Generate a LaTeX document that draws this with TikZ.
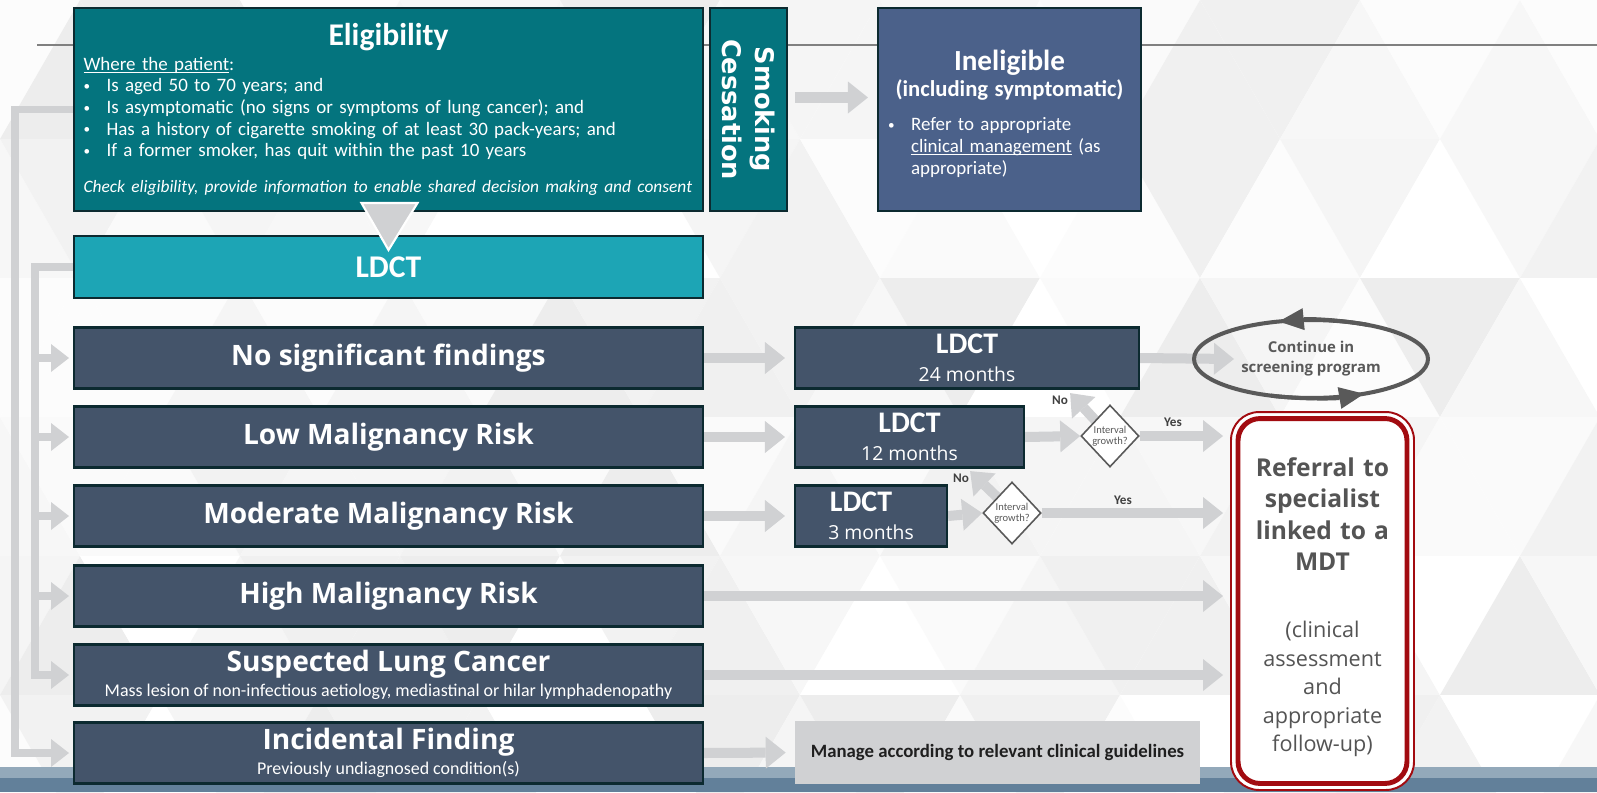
\documentclass[tikz,border=0pt]{standalone}
\usepackage{fontspec}
\setmainfont{Carlito}
\newfontfamily\segoe{Open Sans}
\newfontfamily\wide{DejaVu Sans}
\usetikzlibrary{arrows.meta}
\usetikzlibrary{shapes.geometric}
\usetikzlibrary{backgrounds}

\definecolor{tealdark}{HTML}{04747E}
\definecolor{teallight}{HTML}{1DA5B5}
\definecolor{ineligblue}{HTML}{4B618A}
\definecolor{slate}{HTML}{44546A}
\definecolor{boxedge}{HTML}{0C2A30}
\definecolor{arrowgray}{HTML}{D0D1D3}
\definecolor{loopgray}{HTML}{595959}
\definecolor{refred}{HTML}{A20B10}
\definecolor{bandtop}{HTML}{93A9BA}
\definecolor{banddark}{HTML}{62809A}

\newcommand{\bul}{\makebox[0.46cm][l]{\raisebox{0.6pt}{\fontsize{7.5}{7.5}\selectfont\textbullet}}}
\newcommand{\undl}[1]{\leavevmode\setbox0\hbox{#1}\rlap{\rule[-1.4pt]{\wd0}{0.45pt}}\box0\relax}

\tikzset{
  box/.style= {draw=boxedge, line width=1.2pt, fill=slate, text=white, align=center, inner sep=2pt},
  tbox/.style= {box, fill=tealdark},
  finding/.style= {box, minimum width=12.58cm, minimum height=1.22cm, font=\segoe\bfseries\fontsize{16}{18}\selectfont},
  scan/.style= {box, minimum height=1.22cm, font=\bfseries\fontsize{17}{17}\selectfont},
  dec/.style= {diamond, draw=loopgray, fill=white, line width=0.9pt, minimum width=1.16cm, minimum height=1.24cm, inner sep=0pt, align=center, text=loopgray, font=\fontsize{6}{6.5}\selectfont},
  yn/.style= {text=black!75, font=\bfseries\fontsize{7.5}{8}\selectfont},
  flow/.style= {draw=arrowgray, line width=5.7pt, shorten >=0.18cm, -{Triangle[length=0.4cm, width=0.64cm, line width=0pt]}},
  bar/.style= {draw=arrowgray, line width=4pt, shorten >=0.08cm, -{Triangle[length=0.36cm, width=0.56cm, line width=0pt]}},
  cyc/.style= {draw=loopgray, line width=2.3pt, -{Triangle[length=0.5cm, width=0.44cm, line width=0pt]}},
}

\begin{document}
\begin{tikzpicture}[x=0.02cm, y=-0.02cm]
  \useasboundingbox (0,0) rectangle (1597,792);

  \node [tbox, minimum width=12.58cm, minimum height=4.06cm, text width=12.2cm, align=left, font=\fontsize{10.8}{12.3}\selectfont] (elig) at (388.5,109.5) {%
    \makebox[\linewidth]{\bfseries\fontsize{18}{20}\selectfont Eligibility}\\[1.5pt]
    \undl{Where the patient}:\\
    \bul Is aged 50 to 70 years; and\\
    \bul Is asymptomatic (no signs or symptoms of lung cancer); and\\
    \bul Has a history of cigarette smoking of at least 30 pack-years; and\\
    \bul If a former smoker, has quit within the past 10 years\\[8pt]
    {\itshape\fontsize{9.9}{12}\selectfont Check eligibility, provide information to enable shared decision making and consent}};
  \node [tbox, rotate=-90, minimum width=4.06cm, minimum height=1.54cm, font=\wide\bfseries\fontsize{14.6}{18.5}\selectfont] (smoke) at (748.5,109.5) {Smoking\\Cessation};
  \node [box, fill=ineligblue, minimum width=5.26cm, minimum height=4.06cm, text width=4.86cm, align=left, font=\fontsize{10.8}{12.6}\selectfont] (inelig) at (1009.5,109.5) {%
    \vspace*{4pt}
    \makebox[\linewidth]{\bfseries\fontsize{16.6}{20}\selectfont Ineligible}\\[2pt]
    \makebox[\linewidth]{\bfseries\fontsize{12.9}{14}\selectfont (including symptomatic)}\\[7pt]
    \bul Refer to appropriate\\
    \hspace*{0.46cm}\undl{clinical management} (as\\
    \hspace*{0.46cm}appropriate)};
  \node [box, fill=teallight, minimum width=12.58cm, minimum height=1.24cm, font=\bfseries\fontsize{18}{20}\selectfont] (ldct) at (388.5,267) {LDCT};

  \node [finding] (nosig) at (388.5,358) {No significant findings};
  \node [finding] (low) at (388.5,437) {Low Malignancy Risk};
  \node [finding] (mod) at (388.5,516) {Moderate Malignancy Risk};
  \node [finding] (high) at (388.5,596) {High Malignancy Risk};
  \node [finding] (susp) at (388.5,675) {Suspected Lung Cancer\\[-4pt]{\normalfont\fontsize{10.2}{11}\selectfont Mass lesion of non-infectious aetiology, mediastinal or hilar lymphadenopathy}};
  \node [finding] (incid) at (388.5,753) {Incidental Finding\\[-4pt]{\normalfont\fontsize{10.2}{11}\selectfont Previously undiagnosed condition(s)}};

  \node [scan, minimum width=6.88cm] (ldct24) at (967,358) {LDCT\\[-1pt]{\segoe\mdseries\fontsize{11}{13}\selectfont 24 months}};
  \node [scan, minimum width=4.58cm] (ldct12) at (909.5,437) {LDCT\\[-1pt]{\segoe\mdseries\fontsize{11}{13}\selectfont 12 months}};
  \node [scan, minimum width=3.04cm] (ldct3) at (871,516) {LDCT\hspace*{0.4cm}\\[-1pt]{\segoe\mdseries\fontsize{11}{13}\selectfont 3 months}};

  \node [dec] (dia1) at (1110,436) {Interval\\growth?};
  \node [dec] (dia2) at (1012,513) {Interval\\growth?};
  \node [yn] (yes1) at (1173,422) {Yes};
  \node [yn] (yes2) at (1123,500) {Yes};
  \node [yn] (no1) at (1060,400) {No};
  \node [yn] (no2) at (961,478) {No};

  \node [fill=arrowgray, minimum width=8.1cm, minimum height=1.26cm, text=black!88, font=\bfseries\fontsize{10.7}{12}\selectfont] (manage) at (997.5,752.5) {Manage according to relevant clinical guidelines};

  \node [draw=loopgray, line width=2.3pt, ellipse, minimum width=4.68cm, minimum height=1.56cm, align=center, text=loopgray, font=\segoe\bfseries\fontsize{8.5}{11.4}\selectfont] (cont) at (1311,359) {Continue in\\screening program};
  \draw [cyc] ([shift={(-60:117 and 39)}]cont.center) arc [start angle=-60, end angle=-106, x radius=117, y radius=39];
  \draw [cyc] ([shift={(110:117 and 39)}]cont.center) arc [start angle=110, end angle=63, x radius=117, y radius=39];

  \node [draw=refred, line width=1.1pt, fill=white, rounded corners=0.56cm, minimum width=3.66cm, minimum height=7.56cm] (refout) at (1322.5,601) {};
  \node [draw=refred, line width=2.8pt, rounded corners=0.44cm, minimum width=3.38cm, minimum height=7.3cm] (ref) at (refout) {};
  \node [text width=3.3cm, align=center, text=black!67, font=\segoe\bfseries\fontsize{14}{17.9}\selectfont] (reftxt) at ([shift={(0,6)}]ref.center) {%
    Referral to\\specialist\\linked to a\\MDT\par\vspace{22pt}
    {\mdseries\fontsize{12.3}{16.2}\selectfont (clinical\\assessment\\and\\appropriate\\follow-up)\par}};

  \draw [fill=arrowgray, draw=white, line width=1.2pt] ([shift={(-27,-9)}]elig.south) -- ([shift={(29,-9)}]elig.south) -- ([shift={(0,-17)}]ldct.center) -- cycle;

  \begin{pgfonlayer}{background}
    \pgfmathsetseed{3}
    \foreach \r in {0,...,5} {
      \foreach \c in {-1,...,10} {
        \pgfmathsetmacro\ox{\c*160+mod(\r,2)*80}
        \pgfmathrandominteger{\ga}{0}{7}
        \pgfmathrandominteger{\gb}{0}{7}
        \fill [black!\ga] (\ox,\r*139+139) -- (\ox+80,\r*139) -- (\ox+160,\r*139+139) -- cycle;
        \fill [black!\gb] (\ox+80,\r*139) -- (\ox+240,\r*139) -- (\ox+160,\r*139+139) -- cycle;
      }
    }
    \fill [bandtop] (0,767) rectangle (1597,778);
    \fill [banddark] (0,778) rectangle (1597,792);
    \draw [black!50, line width=0.8pt] (37,45) -- (1597,45);

    \draw [bar] (elig.west) -- ++(-58,0) |- (incid.west);
    \foreach \n in {nosig,low,mod,high,susp}
      \draw [bar] (ldct.west) -- ++(-38,0) |- (\n.west);

    \draw [flow] ([shift={(7,-12)}]smoke.north) -- ([shift={(0,-12)}]inelig.west);
    \draw [flow] (nosig.east) -- (ldct24.west);
    \draw [flow] (low.east) -- (ldct12.west);
    \draw [flow] (mod.east) -- (ldct3.west);
    \draw [flow, shorten >=0pt] (ldct24.east) -- ([shift={(42,0)}]cont.west);
    \draw [flow, shorten >=0pt] (ldct12.east) -- (dia1.west);
    \draw [flow, shorten >=0pt] (ldct3.east) -- (dia2.west);
    \draw [flow, shorten >=0.14cm] (dia1.east) -- (dia1.east -| refout.west);
    \draw [flow, shorten >=0.14cm] (dia2.east) -- (dia2.east -| refout.west);
    \draw [flow, shorten >=0pt] (dia1.north west) -- ([shift={(-25,-27)}]dia1.north west);
    \draw [flow, shorten >=0pt] (dia2.north west) -- ([shift={(-27,-26)}]dia2.north west);
    \draw [flow, shorten >=0.14cm] (high.east) -- (high.east -| refout.west);
    \draw [flow, shorten >=0.14cm] (susp.east) -- (susp.east -| refout.west);
    \draw [flow] (incid.east) -- (manage.west);
  \end{pgfonlayer}
\end{tikzpicture}
\end{document}
